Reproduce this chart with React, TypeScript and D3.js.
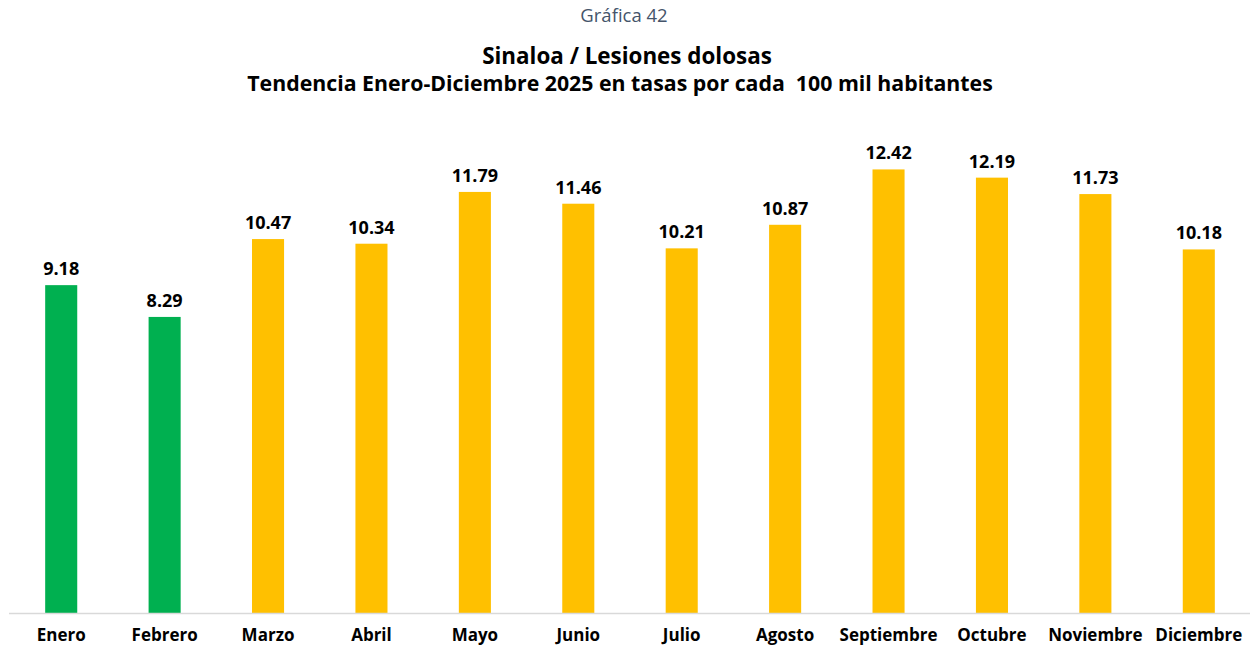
import React from "react";
import * as d3 from "d3";

const months = ["Enero","Febrero","Marzo","Abril","Mayo","Junio","Julio","Agosto","Septiembre","Octubre","Noviembre","Diciembre"];
const rates = [9.18, 8.29, 10.47, 10.34, 11.79, 11.46, 10.21, 10.87, 12.42, 12.19, 11.73, 10.18];
const greenMonths = ["Enero", "Febrero"];
const chartLabel = "Gráfica 42";
const titleLines = ["Sinaloa / Lesiones dolosas", "Tendencia Enero-Diciembre 2025 en tasas por cada  100 mil habitantes"];

const W = 1250, H = 645;
const FONT = "'Open Sans', Lato, sans-serif";

export default function App() {
  const x = d3.scaleBand<string>().domain(months).range([9.5, 1250.5]).paddingInner(0.69).paddingOuter(0.345);
  const y = d3.scaleLinear().domain([0, 14]).range([613, 113]);
  return (
    <svg width={W} height={H} style={{ position: "absolute", left: 0, top: 0, background: "#fff" }}>
      <text x={624} y={22} textAnchor="middle" fontFamily={FONT} fontSize={18.5} fill="#44546A">{chartLabel}</text>
      {titleLines.map((t, i) => (
        <text key={i} x={i === 0 ? 627 : 620} y={64 + i * 27} textAnchor="middle" fontFamily={FONT} fontSize={i === 0 ? 22.4 : 21.3} fontWeight={700} fill="#000" style={{ whiteSpace: "pre" }}>{t}</text>
      ))}
      {months.map((m, i) => {
        const v = rates[i];
        const bx = x(m)!;
        return (
          <g key={m}>
            <rect x={bx} y={y(v)} width={x.bandwidth()} height={y(0) - y(v)} fill={greenMonths.includes(m) ? "#00B050" : "#FFC000"} />
            <text x={bx + x.bandwidth() / 2} y={y(v) - 10} textAnchor="middle" fontFamily={FONT} fontSize={18} fontWeight={700} fill="#000">{v.toFixed(2)}</text>
            <text x={bx + x.bandwidth() / 2} y={640.5} textAnchor="middle" fontFamily={FONT} fontSize={17} fontWeight={700} fill="#000">{m}</text>
          </g>
        );
      })}
      <line x1={9} x2={1250} y1={613.5} y2={613.5} stroke="#D9D9D9" strokeWidth={1.5} />
    </svg>
  );
}
